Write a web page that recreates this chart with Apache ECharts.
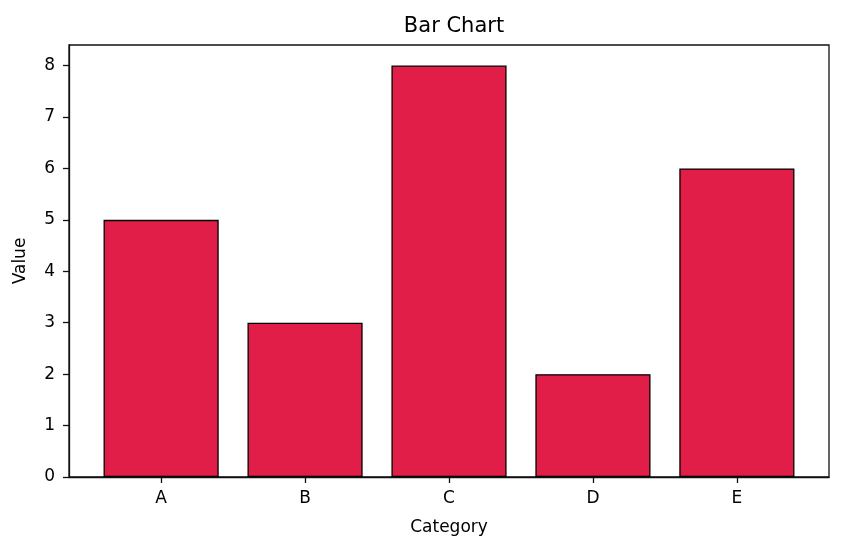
<!DOCTYPE html>
<html>
<head>
<meta charset="utf-8">
<script src="https://cdn.jsdelivr.net/npm/echarts@6/dist/echarts.min.js"></script>
<style>
  html, body { margin: 0; padding: 0; background: #fff; }
  #chart { width: 842px; height: 552px; }
</style>
</head>
<body>
<div id="chart"></div>
<script>
// 数据
const categories = ['A', 'B', 'C', 'D', 'E'];
const values = [5, 3, 8, 2, 6];
const yTicks = [0, 1, 2, 3, 4, 5, 6, 7, 8];

const font = 'DejaVu Sans';
const gridLeft = 69, gridRight = 13;
const xMin = -0.64, xMax = 4.64;
const plotWidth = 842 - gridLeft - gridRight;
const barWidth = plotWidth / (xMax - xMin) * 0.8; // matplotlib 默认宽度 0.8

const chart = echarts.init(document.getElementById('chart'));
chart.setOption({
  animation: false,
  backgroundColor: '#fff',
  title: {
    text: 'Bar Chart',
    left: 449,
    textAlign: 'center',
    top: 11,
    textStyle: { fontFamily: font, fontSize: 21, fontWeight: 'normal', color: '#000' }
  },
  grid: {
    left: gridLeft, right: gridRight, top: 45, bottom: 75,
    show: true, borderColor: '#111', borderWidth: 1.3
  },
  xAxis: {
    type: 'value',
    min: xMin,
    max: xMax,
    name: 'Category',
    nameLocation: 'middle',
    nameGap: 42,
    nameTextStyle: { fontFamily: font, fontSize: 17, color: '#000' },
    axisLine: { show: true, onZero: false, lineStyle: { color: '#111', width: 1.3 } },
    axisTick: { show: true, inside: false, length: 6, customValues: categories.map((c, i) => i), lineStyle: { color: '#111', width: 1.3 } },
    axisLabel: {
      customValues: categories.map((c, i) => i),
      formatter: v => categories[v],
      fontFamily: font, fontSize: 17, color: '#000', margin: 13
    },
    splitLine: { show: false }
  },
  yAxis: {
    type: 'value',
    min: 0,
    max: 8.4,
    name: 'Value',
    nameLocation: 'middle',
    nameGap: 40,
    nameTextStyle: { fontFamily: font, fontSize: 17, color: '#000' },
    axisLine: { show: true, onZero: false, lineStyle: { color: '#111', width: 1.3 } },
    axisTick: { show: true, inside: false, length: 6, customValues: yTicks, lineStyle: { color: '#111', width: 1.3 } },
    axisLabel: { customValues: yTicks, fontFamily: font, fontSize: 17, color: '#000', margin: 14 },
    splitLine: { show: false }
  },
  series: [{
    type: 'bar',
    barWidth: barWidth,
    data: values.map((v, i) => [i, v]),
    itemStyle: { color: '#E01E48', borderColor: '#000', borderWidth: 1.3 }
  }]
});
</script>
</body>
</html>
